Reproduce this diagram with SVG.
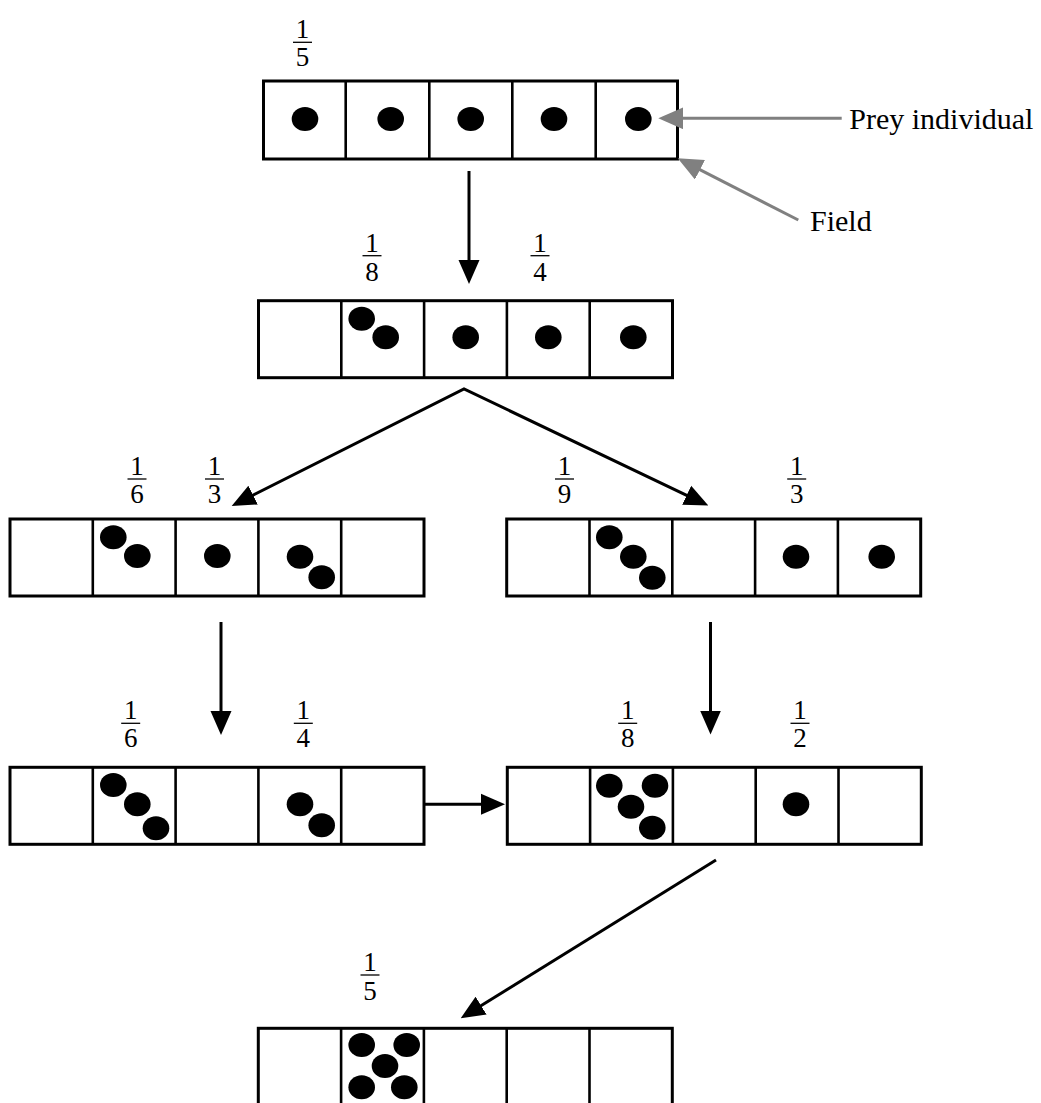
<svg xmlns="http://www.w3.org/2000/svg" width="1041" height="1103" viewBox="0 0 1041 1103">
  <style>
    .cells { fill: #ffffff; stroke: #000000; stroke-width: 3; }
    .div { stroke: #000000; stroke-width: 2.6; }
    .dot { fill: #000000; }
    .num { font-family: "Liberation Serif", "Times New Roman", serif; font-size: 27px; fill: #000000; text-anchor: middle; }
    .bar { stroke: #000000; stroke-width: 1.3; }
    .lbl { font-family: "Liberation Serif", "Times New Roman", serif; font-size: 30px; fill: #000000; }
    .arrow { fill: none; stroke: #000000; stroke-width: 3; }
    .pointer { fill: none; stroke: #808080; stroke-width: 3; }
  </style>
  <defs>
    <marker id="head" markerUnits="userSpaceOnUse" markerWidth="24" markerHeight="22" refX="14" refY="10.5" orient="auto-start-reverse" viewBox="0 0 24 21">
      <path d="M0,0 L24,10.5 L0,21 z" fill="#000000"/>
    </marker>
    <marker id="grayhead" markerUnits="userSpaceOnUse" markerWidth="25" markerHeight="22" refX="15" refY="11" orient="auto" viewBox="0 0 25 22">
      <path d="M0,0 L25,11 L0,22 z" fill="#808080"/>
    </marker>
    <!-- a strip of five fields -->
    <g id="strip">
      <rect class="cells" x="0" y="0" width="414" height="77"/>
      <line class="div" x1="82.8" y1="0" x2="82.8" y2="77"/>
      <line class="div" x1="165.6" y1="0" x2="165.6" y2="77"/>
      <line class="div" x1="248.4" y1="0" x2="248.4" y2="77"/>
      <line class="div" x1="331.2" y1="0" x2="331.2" y2="77"/>
    </g>
  </defs>

  <!-- initial state: one prey per field -->
  <g id="state1" transform="translate(263.5,81)">
    <rect class="cells" x="0" y="0" width="414" height="78"/>
    <line class="div" x1="82.2" y1="0" x2="82.2" y2="78"/>
    <line class="div" x1="165.8" y1="0" x2="165.8" y2="78"/>
    <line class="div" x1="248.8" y1="0" x2="248.8" y2="78"/>
    <line class="div" x1="332.2" y1="0" x2="332.2" y2="78"/>
    <ellipse class="dot" cx="41.5" cy="38" rx="13.3" ry="12"/>
    <ellipse class="dot" cx="127.2" cy="38" rx="13.3" ry="12"/>
    <ellipse class="dot" cx="207.2" cy="38" rx="13.3" ry="12"/>
    <ellipse class="dot" cx="290.5" cy="38" rx="13.3" ry="12"/>
    <ellipse class="dot" cx="374.8" cy="38" rx="13.3" ry="12"/>
    <g transform="translate(39,-38.7)">
      <text class="num" x="0" y="-4">1</text><line class="bar" x1="-9.5" y1="0" x2="9.5" y2="0"/><text class="num" x="0" y="24">5</text>
    </g>
  </g>

  <g id="state2" transform="translate(258.5,300.7)">
    <use href="#strip"/>
    <ellipse class="dot" cx="103.2" cy="18" rx="13.3" ry="12"/>
    <ellipse class="dot" cx="127.2" cy="36.6" rx="13.3" ry="12"/>
    <ellipse class="dot" cx="207.2" cy="36.6" rx="13.3" ry="12"/>
    <ellipse class="dot" cx="289.8" cy="36.6" rx="13.3" ry="12"/>
    <ellipse class="dot" cx="374.8" cy="36.6" rx="13.3" ry="12"/>
    <g transform="translate(113.5,-45)">
      <text class="num" x="0" y="-4">1</text><line class="bar" x1="-9.5" y1="0" x2="9.5" y2="0"/><text class="num" x="0" y="25">8</text>
    </g>
    <g transform="translate(281.5,-45)">
      <text class="num" x="0" y="-4">1</text><line class="bar" x1="-9.5" y1="0" x2="9.5" y2="0"/><text class="num" x="0" y="25">4</text>
    </g>
  </g>

  <g id="state3a" transform="translate(10,519)">
    <use href="#strip"/>
    <ellipse class="dot" cx="103.3" cy="18.3" rx="13.3" ry="12"/>
    <ellipse class="dot" cx="127.3" cy="37" rx="13.3" ry="12"/>
    <ellipse class="dot" cx="207.3" cy="37" rx="13.3" ry="12"/>
    <ellipse class="dot" cx="290" cy="37.7" rx="13.3" ry="12"/>
    <ellipse class="dot" cx="311.7" cy="58.3" rx="13.3" ry="12"/>
    <g transform="translate(127,-40)">
      <text class="num" x="0" y="-4">1</text><line class="bar" x1="-9.5" y1="0" x2="9.5" y2="0"/><text class="num" x="0" y="24">6</text>
    </g>
    <g transform="translate(204.5,-40)">
      <text class="num" x="0" y="-4">1</text><line class="bar" x1="-9.5" y1="0" x2="9.5" y2="0"/><text class="num" x="0" y="24">3</text>
    </g>
  </g>

  <g id="state3b" transform="translate(506.7,519)">
    <use href="#strip"/>
    <ellipse class="dot" cx="102.6" cy="18.3" rx="13.3" ry="12"/>
    <ellipse class="dot" cx="126.6" cy="37.7" rx="13.3" ry="12"/>
    <ellipse class="dot" cx="145.6" cy="58.7" rx="13.3" ry="12"/>
    <ellipse class="dot" cx="289.3" cy="37.7" rx="13.3" ry="12"/>
    <ellipse class="dot" cx="375" cy="37.7" rx="13.3" ry="12"/>
    <g transform="translate(57.8,-40)">
      <text class="num" x="0" y="-4">1</text><line class="bar" x1="-9.5" y1="0" x2="9.5" y2="0"/><text class="num" x="0" y="24">9</text>
    </g>
    <g transform="translate(290,-40)">
      <text class="num" x="0" y="-4">1</text><line class="bar" x1="-9.5" y1="0" x2="9.5" y2="0"/><text class="num" x="0" y="24">3</text>
    </g>
  </g>

  <g id="state4a" transform="translate(10,767.3)">
    <use href="#strip"/>
    <ellipse class="dot" cx="103.3" cy="17.7" rx="13.3" ry="12"/>
    <ellipse class="dot" cx="127.3" cy="37" rx="13.3" ry="12"/>
    <ellipse class="dot" cx="146" cy="61" rx="13.3" ry="12"/>
    <ellipse class="dot" cx="290" cy="37" rx="13.3" ry="12"/>
    <ellipse class="dot" cx="311.7" cy="58" rx="13.3" ry="12"/>
    <g transform="translate(120.7,-44)">
      <text class="num" x="0" y="-4">1</text><line class="bar" x1="-9.5" y1="0" x2="9.5" y2="0"/><text class="num" x="0" y="24">6</text>
    </g>
    <g transform="translate(293.3,-44)">
      <text class="num" x="0" y="-4">1</text><line class="bar" x1="-9.5" y1="0" x2="9.5" y2="0"/><text class="num" x="0" y="24">4</text>
    </g>
  </g>

  <g id="state4b" transform="translate(507.3,767.3)">
    <use href="#strip"/>
    <ellipse class="dot" cx="102" cy="18.4" rx="13.3" ry="12"/>
    <ellipse class="dot" cx="147.7" cy="18.4" rx="13.3" ry="12"/>
    <ellipse class="dot" cx="123.7" cy="39.4" rx="13.3" ry="12"/>
    <ellipse class="dot" cx="145" cy="60.4" rx="13.3" ry="12"/>
    <ellipse class="dot" cx="288.7" cy="37" rx="13.3" ry="12"/>
    <g transform="translate(120.4,-44)">
      <text class="num" x="0" y="-4">1</text><line class="bar" x1="-9.5" y1="0" x2="9.5" y2="0"/><text class="num" x="0" y="24">8</text>
    </g>
    <g transform="translate(292.7,-44)">
      <text class="num" x="0" y="-4">1</text><line class="bar" x1="-9.5" y1="0" x2="9.5" y2="0"/><text class="num" x="0" y="24">2</text>
    </g>
  </g>

  <g id="state5" transform="translate(258.3,1028.3)">
    <use href="#strip"/>
    <ellipse class="dot" cx="103.4" cy="16.7" rx="13.3" ry="12"/>
    <ellipse class="dot" cx="148.4" cy="16.7" rx="13.3" ry="12"/>
    <ellipse class="dot" cx="126.7" cy="37.7" rx="13.3" ry="12"/>
    <ellipse class="dot" cx="103.4" cy="59" rx="13.3" ry="12"/>
    <ellipse class="dot" cx="146" cy="59" rx="13.3" ry="12"/>
    <g transform="translate(111.7,-53.3)">
      <text class="num" x="0" y="-4">1</text><line class="bar" x1="-9.5" y1="0" x2="9.5" y2="0"/><text class="num" x="0" y="25">5</text>
    </g>
  </g>

  <!-- annotations -->
  <g id="legend">
    <text class="lbl" x="849.3" y="128.5">Prey individual</text>
    <text class="lbl" x="810" y="231">Field</text>
  </g>

  <g id="connectors">
    <line class="pointer" x1="841.7" y1="118.3" x2="668.3" y2="118.3" marker-end="url(#grayhead)"/>
    <line class="pointer" x1="798.3" y1="220" x2="686.6" y2="162.9" marker-end="url(#grayhead)"/>
    <line class="arrow" x1="469" y1="171" x2="469" y2="274" marker-end="url(#head)"/>
    <path class="arrow" d="M240.6,501.4 L464,389 L699.3,501.3" marker-start="url(#head)" marker-end="url(#head)"/>
    <line class="arrow" x1="221" y1="622" x2="221" y2="725" marker-end="url(#head)"/>
    <line class="arrow" x1="710.5" y1="622" x2="710.5" y2="724.5" marker-end="url(#head)"/>
    <line class="arrow" x1="425" y1="804.3" x2="495" y2="804.3" marker-end="url(#head)"/>
    <line class="arrow" x1="716" y1="860" x2="469.2" y2="1013" marker-end="url(#head)"/>
  </g>
</svg>
